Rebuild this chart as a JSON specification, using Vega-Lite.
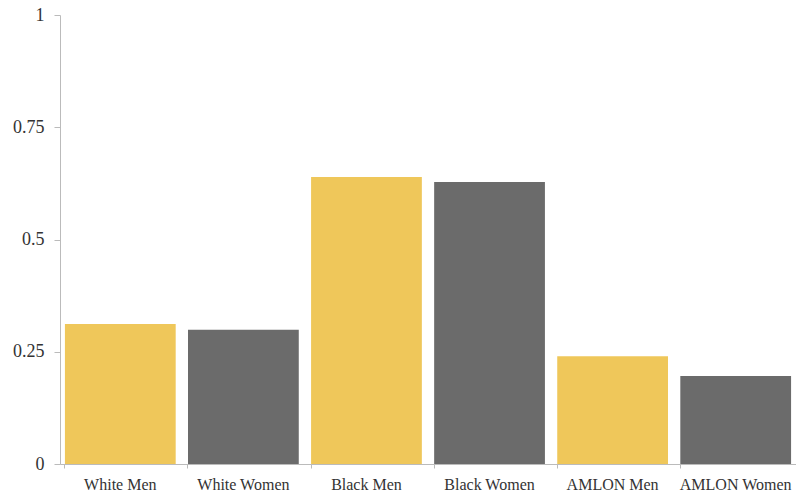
{
  "$schema": "https://vega.github.io/schema/vega-lite/v6.json",
  "width": 736,
  "height": 449,
  "autosize": {"type": "none"},
  "padding": {"left": 60, "top": 15, "right": 0, "bottom": 27},
  "background": "white",
  "config": {"view": {"stroke": null}},
  "data": {
    "values": [
      {"group": "White Men", "sex": "Men", "value": 0.312},
      {"group": "White Women", "sex": "Women", "value": 0.299},
      {"group": "Black Men", "sex": "Men", "value": 0.639},
      {"group": "Black Women", "sex": "Women", "value": 0.628},
      {"group": "AMLON Men", "sex": "Men", "value": 0.24},
      {"group": "AMLON Women", "sex": "Women", "value": 0.196}
    ]
  },
  "mark": {"type": "bar"},
  "encoding": {
    "x": {
      "field": "group",
      "type": "nominal",
      "sort": null,
      "scale": {"paddingInner": 0.1, "paddingOuter": 0.04},
      "axis": {
        "title": null,
        "labelAngle": 0,
        "labelFont": "Liberation Serif",
        "labelFontSize": 16,
        "labelColor": "#333333",
        "labelPadding": 8,
        "bandPosition": 0,
        "domainColor": "#bbbbbb",
        "tickColor": "#bbbbbb",
        "tickSize": 4
      }
    },
    "y": {
      "field": "value",
      "type": "quantitative",
      "scale": {"domain": [0, 1]},
      "axis": {
        "title": null,
        "values": [0, 0.25, 0.5, 0.75, 1],
        "labelExpr": "datum.value + ''",
        "grid": false,
        "labelFont": "Liberation Serif",
        "labelFontSize": 18,
        "labelColor": "#333333",
        "labelPadding": 10,
        "domainColor": "#bbbbbb",
        "tickColor": "#bbbbbb",
        "tickSize": 6
      }
    },
    "color": {
      "field": "sex",
      "type": "nominal",
      "scale": {"domain": ["Men", "Women"], "range": ["#EFC75A", "#6B6B6B"]},
      "legend": null
    }
  }
}
